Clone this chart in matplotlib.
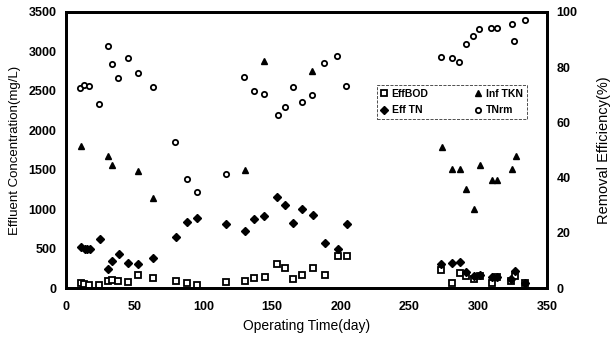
import matplotlib
matplotlib.use("Agg")
import matplotlib.pyplot as plt

plt.rcParams['font.family'] = ['Liberation Sans', 'DejaVu Sans']
plt.rcParams['font.weight'] = 'bold'

# Eff BOD (mg/L), left axis
bod_day = [10.7, 13.3, 16.7, 24.3, 30.8, 33.2, 38.1, 45.4, 52.6, 63.5, 79.8, 88.3,
           95.3, 116.2, 130.3, 137, 144.8, 153.8, 159.2, 165.4, 172, 179.5, 188.5,
           197.7, 204.3, 273, 281, 287, 291, 297, 301, 310, 314, 324, 327, 334]
bod_val = [60, 51, 42, 42, 85, 101, 85, 76, 165, 123, 93, 63,
           38, 80, 93, 123, 139, 300, 258, 114, 169, 253, 165,
           410, 410, 228, 67, 186, 152, 114, 150, 63, 139, 89, 152, 63]

# Inf TKN (mg/L), left axis
tkn_day = [10.7, 30.8, 33.7, 52.6, 63.5, 130.3, 144.3, 178.8, 273.4, 281.2, 287,
           291.1, 297.2, 301.3, 309.8, 313.9, 324.4, 327.3]
tkn_val = [1804, 1673, 1555, 1487, 1137, 1500, 2877, 2752, 1783, 1512, 1512,
           1255, 1001, 1563, 1365, 1365, 1512, 1677]

# Eff TN (mg/L), left axis
tn_day = [10.7, 13.8, 15.5, 17.5, 24.7, 30.8, 33.7, 38.8, 45.4, 52.6, 63.5, 79.8,
          88.3, 95.3, 116.2, 130.3, 137, 144.3, 153.8, 159.2, 165.4, 171.5, 179.5,
          188.5, 197.7, 204.3, 273, 281, 287, 291, 297, 301, 310, 314, 324, 327, 334]
tn_val = [516, 490, 490, 498, 617, 237, 346, 431, 313, 300, 376, 642,
          832, 893, 811, 726, 874, 908, 1157, 1056, 828, 997, 925,
          566, 490, 807, 304, 313, 334, 200, 150, 170, 140, 140, 110, 220, 60]

# TN removal (%), right axis
rm_day = [10.2, 13.3, 16.7, 24.3, 30.3, 33.2, 38.1, 45.4, 52.2, 63.5, 79.3, 88.3,
          95.3, 116.2, 129.8, 137, 144.3, 154, 159.4, 165.4, 171.5, 179.3, 188,
          197, 203.6, 272.7, 280.7, 286.3, 290.9, 296.5, 300.6, 309.1, 313.5,
          324.6, 326.3, 334.1]
rm_val = [72.4, 73.6, 73.1, 66.6, 87.7, 81.0, 76.2, 83.2, 78.0, 72.9, 53.0, 39.5,
          34.9, 41.3, 76.6, 71.4, 70.2, 62.7, 65.7, 72.7, 67.5, 69.9, 81.4,
          84.1, 73.2, 83.8, 83.2, 82.0, 88.3, 91.4, 93.7, 94.1, 94.1,
          95.5, 89.6, 97.1]

fig = plt.figure(figsize=(6.11, 3.37), dpi=100)
ax = fig.add_axes([0.108, 0.1454, 0.787, 0.819])
ax2 = ax.twinx()

h1, = ax.plot(bod_day, bod_val, 's', ms=3.8, mfc='white', mec='k', mew=1.3, label='EffBOD')
h2, = ax.plot(tn_day, tn_val, 'D', ms=3.8, color='k', label='Eff TN')
h3, = ax.plot(tkn_day, tkn_val, '^', ms=4.2, color='k', label='Inf TKN')
h4, = ax2.plot(rm_day, rm_val, 'o', ms=3.8, mfc='white', mec='k', mew=1.3, label='TNrm')

ax.set_xlim(0, 350)
ax.set_ylim(0, 3500)
ax2.set_ylim(0, 100)
ax.set_xticks(range(0, 351, 50))
ax.set_yticks(range(0, 3501, 500))
ax2.set_yticks(range(0, 101, 20))

for a in (ax, ax2):
    for s in a.spines.values():
        s.set_linewidth(2)
    a.tick_params(labelsize=9, length=0, pad=7)
ax.tick_params(axis='x', pad=9)

ax.set_xlabel('Operating Time(day)', fontsize=10, labelpad=5)
ax.set_ylabel('Effluent Concentration(mg/L)', fontsize=9.5, labelpad=5)
ax2.set_ylabel('Removal Efficiency(%)', fontsize=10.5, labelpad=14)

leg = ax.legend(handles=[h1, h2, h3, h4], ncol=2, loc='upper left',
                bbox_to_anchor=(0.636, 0.755), fontsize=7.5, frameon=True,
                fancybox=False, handlelength=0.6, handletextpad=0.4,
                columnspacing=4.5, borderpad=0.4, labelspacing=0.6)
leg.get_frame().set_edgecolor('k')
leg.get_frame().set_linewidth(0.6)
leg.get_frame().set_linestyle('--')

fig.savefig('out.png', dpi=100)
